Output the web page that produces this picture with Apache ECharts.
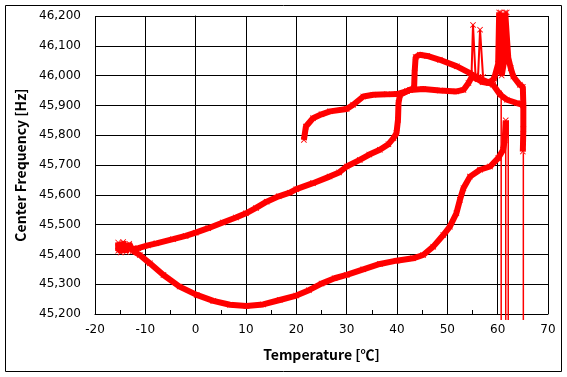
<!DOCTYPE html>
<html>
<head>
<meta charset="utf-8">
<script src="https://cdn.jsdelivr.net/npm/echarts@6/dist/echarts.min.js"></script>
<style>
html, body { margin: 0; padding: 0; background: #fff; }
#chart { width: 567px; height: 377px; }
</style>
</head>
<body>
<div id="chart"></div>
<script>
// readings [temperature, frequency]
const roomBranch = [
  [21.5, 45784], [21.9, 45829], [23.3, 45857], [25, 45870], [26.7, 45880], [30, 45888],
  [31.3, 45902], [33.3, 45930], [35.3, 45936], [38, 45937], [40, 45938], [42, 45948],
  [43.4, 45958], [43.5, 46010], [43.7, 46062], [44.5, 46070], [46, 46066], [48.5, 46053],
  [51.9, 46031], [54.5, 46008], [56.1, 45992], [57.8, 45980], [59.1, 45969], [60.5, 45936],
  [61.8, 45919], [63.8, 45908], [65, 45902]
];
const heatBranch = [
  [-12.3, 45418], [-11.4, 45421], [-9.5, 45430], [-7.8, 45437], [-4.5, 45451], [-2, 45462],
  [0, 45473], [2.5, 45488], [5.4, 45507], [8, 45524], [10, 45538], [12, 45556],
  [14.1, 45577], [16.5, 45595], [18.7, 45607], [20, 45619], [23.3, 45639], [26.6, 45661],
  [28.5, 45675], [30, 45695], [32.6, 45717], [34.5, 45735], [36.6, 45751], [38.3, 45770],
  [39.3, 45790], [39.9, 45807], [40.2, 45852], [40.3, 45908], [40.6, 45936], [42.6, 45952],
  [45.2, 45955], [48.5, 45950], [51.8, 45947], [53.2, 45952], [54.2, 45975], [54.9, 45997],
  [56, 45988], [57, 45978], [58.2, 45975], [59.3, 45990], [60.1, 46040], [60.3, 46212],
  [60.6, 46212], [60.8, 46000], [61.4, 46060], [61.5, 46212], [61.8, 46212], [62.1, 46060],
  [62.6, 46025], [63.1, 45997], [64.4, 45969], [65, 45962], [65.1, 45900], [65.1, 45820],
  [65, 45745]
];
const coolBranch = [
  [61.6, 45850], [61.4, 45784], [61.1, 45751], [60.1, 45723], [58.5, 45695], [56.5, 45684],
  [54.5, 45661], [53.2, 45622], [52.5, 45583], [51.8, 45538], [50.5, 45493], [49.2, 45465],
  [47.2, 45426], [45.2, 45398], [43.2, 45387], [39.9, 45379], [36.6, 45368], [33.3, 45350],
  [30, 45331], [27.6, 45320], [25, 45302], [22.5, 45280], [20, 45262], [16.7, 45247],
  [13.4, 45232], [10.1, 45227], [6.8, 45231], [3.5, 45244], [0.2, 45264], [-3.2, 45292],
  [-6.4, 45331], [-9.1, 45370], [-11.1, 45398], [-12.5, 45412]
];
const soakCluster = [
  [-12.5, 45412], [-13.2, 45436], [-13.8, 45408], [-14.4, 45442], [-14.9, 45406],
  [-15.4, 45440], [-15.4, 45412], [-14.2, 45425], [-12.3, 45418]
];
const spikeOne = [[54.8, 46000], [55.1, 46170], [55.6, 46000]];
const spikeTwo = [[56.1, 45995], [56.5, 46154], [57.1, 45995]];
// dropouts: readings that fall off the scale
const dropX = [60.7, 61.6, 62.1, 65.1];
const dropTop = [45950, 45850, 45850, 45740];
const dropBottom = 45180;

const RED = '#ff0000';
const XMARK = 'path://M0,1L1,0L5,4L9,0L10,1L6,5L10,9L9,10L5,6L1,10L0,9L4,5Z';
const tickFont = 'DejaVu Sans';
const titleFont = 'Noto Sans CJK KR';

function band(data) {
  return {
    type: 'line', data: data, clip: false, animation: false,
    symbol: XMARK, symbolSize: 6, showSymbol: true,
    lineStyle: { color: RED, width: 6 },
    itemStyle: { color: RED }
  };
}
function thin(data, marks) {
  return {
    type: 'line', data: data, clip: false, animation: false,
    symbol: marks ? XMARK : 'none', symbolSize: 6,
    lineStyle: { color: RED, width: marks ? 2 : 1.5 },
    itemStyle: { color: RED }
  };
}

const series = [band(coolBranch), band(heatBranch), band(roomBranch), band(soakCluster),
  thin(spikeOne, true), thin(spikeTwo, true)];
dropX.forEach((x, i) => series.push(thin([[x, dropTop[i]], [x, dropBottom]], false)));

const chart = echarts.init(document.getElementById('chart'));
chart.setOption({
  backgroundColor: '#fff',
  animation: false,
  grid: { left: 95, right: 19, top: 16, bottom: 63 },
  xAxis: {
    type: 'value', min: -20, max: 70, interval: 10,
    name: 'Temperature [℃]', nameLocation: 'middle', nameGap: 34,
    nameTextStyle: { fontFamily: titleFont, fontWeight: 'bold', fontSize: 14, color: '#000' },
    axisLine: { onZero: false, lineStyle: { color: '#000', width: 1 } },
    axisTick: { inside: true, length: 4, lineStyle: { color: '#000' } },
    minorTick: { show: true, splitNumber: 2, length: 4, lineStyle: { color: '#000' } },
    splitLine: { show: true, lineStyle: { color: '#000', width: 1 } },
    axisLabel: { color: '#000', fontFamily: tickFont, fontSize: 12, margin: 10 }
  },
  yAxis: {
    type: 'value', min: 45200, max: 46200, interval: 100,
    name: 'Center Frequency [Hz]', nameLocation: 'middle', nameGap: 66,
    nameTextStyle: { fontFamily: titleFont, fontWeight: 'bold', fontSize: 14, color: '#000' },
    axisLine: { show: true, lineStyle: { color: '#000', width: 1 } },
    axisTick: { show: true, length: 5, lineStyle: { color: '#000' } },
    splitLine: { show: true, lineStyle: { color: '#000', width: 1 } },
    axisLabel: {
      color: '#000', fontFamily: tickFont, fontSize: 12, margin: 14,
      formatter: v => v.toLocaleString('en-US')
    }
  },
  graphic: [{
    type: 'rect', silent: true,
    shape: { x: 5.5, y: 5.5, width: 556, height: 366 },
    style: { fill: 'none', stroke: '#000', lineWidth: 1 }
  }],
  series: series
});
</script>
</body>
</html>
